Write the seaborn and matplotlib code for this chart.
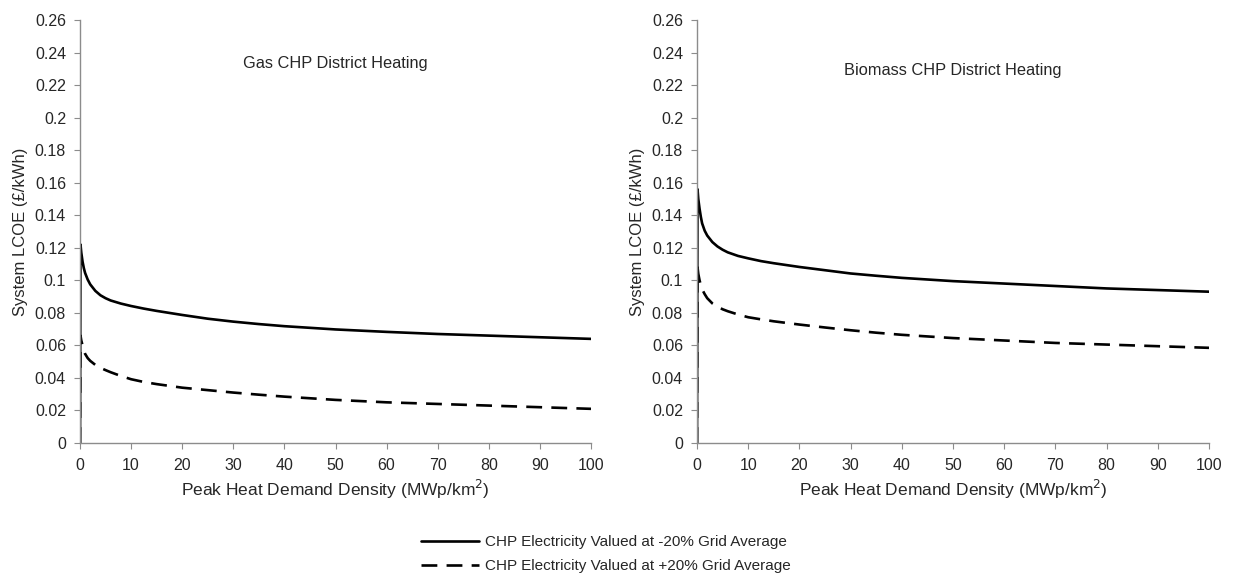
import numpy as np
import pandas as pd
import matplotlib
matplotlib.use("Agg")
import matplotlib.pyplot as plt
import seaborn as sns
from matplotlib.lines import Line2D

# Peak heat demand density (MWp/km2)
density = [0, 0.1, 0.25, 0.5, 0.75, 1, 1.5, 2, 3, 4, 5, 6, 8, 10, 12.5, 15, 20, 25,
           30, 35, 40, 50, 60, 70, 80, 90, 100]

# System LCOE (GBP/kWh), gas CHP district heating
gas_low = [0, 0.122, 0.117, 0.1115, 0.1075, 0.1045, 0.1005, 0.0975, 0.0935, 0.0908, 0.0890,
           0.0876, 0.0857, 0.0842, 0.0826, 0.0812, 0.0787, 0.0764, 0.0746, 0.0731, 0.0718,
           0.0698, 0.0683, 0.0670, 0.0660, 0.0650, 0.0640]
gas_high = [0, 0.066, 0.063, 0.060, 0.057, 0.0548, 0.0522, 0.0505, 0.0480, 0.0462, 0.0448,
            0.0435, 0.0412, 0.0392, 0.0375, 0.0362, 0.0340, 0.0325, 0.0310, 0.0297, 0.0285,
            0.0265, 0.0250, 0.0240, 0.0230, 0.0220, 0.0210]

# System LCOE (GBP/kWh), biomass CHP district heating
bio_low = [0, 0.156, 0.150, 0.144, 0.139, 0.135, 0.1305, 0.1275, 0.1235, 0.1208, 0.1188,
           0.1172, 0.1150, 0.1135, 0.1118, 0.1105, 0.1082, 0.1062, 0.1042, 0.1028, 0.1015,
           0.0995, 0.0980, 0.0965, 0.0950, 0.0940, 0.0930]
bio_high = [0, 0.108, 0.104, 0.100, 0.097, 0.0945, 0.0915, 0.0890, 0.0858, 0.0838, 0.0822,
            0.0810, 0.0790, 0.0773, 0.0760, 0.0748, 0.0728, 0.0710, 0.0693, 0.0678, 0.0665,
            0.0645, 0.0630, 0.0615, 0.0605, 0.0595, 0.0585]

series_names = ["CHP Electricity Valued at -20% Grid Average",
                "CHP Electricity Valued at +20% Grid Average"]
panel_titles = ["Gas CHP District Heating", "Biomass CHP District Heating"]
y_ticks = [0, 0.02, 0.04, 0.06, 0.08, 0.1, 0.12, 0.14, 0.16, 0.18, 0.2, 0.22, 0.24, 0.26]
x_ticks = [0, 10, 20, 30, 40, 50, 60, 70, 80, 90, 100]


def frame(low, high):
    return pd.concat([
        pd.DataFrame({"density": density, "lcoe": low, "series": series_names[0]}),
        pd.DataFrame({"density": density, "lcoe": high, "series": series_names[1]}),
    ], ignore_index=True)


sns.set_theme(style="white")
plt.rcParams["font.family"] = ["Liberation Sans", "DejaVu Sans"]

W, H = 1234, 578
fig = plt.figure(figsize=(W / 100, H / 100), dpi=100)
ax_left = fig.add_axes([80 / W, 1 - 443 / H, 511 / W, 423 / H])
ax_right = fig.add_axes([697 / W, 1 - 443 / H, 512 / W, 423 / H])

dash_map = {series_names[0]: "", series_names[1]: (6, 3.5)}
grey = "#8c8c8c"

for ax, (low, high), title, title_y in zip([ax_left, ax_right],
                                           [(gas_low, gas_high), (bio_low, bio_high)],
                                           panel_titles, [0.896, 0.880]):
    sns.lineplot(data=frame(low, high), x="density", y="lcoe", style="series",
                 dashes=dash_map, color="black", linewidth=1.9, ax=ax,
                 legend=False, estimator=None, sort=False)
    ax.set_xlim(0, 100)
    ax.set_ylim(0, 0.26)
    ax.set_xticks(x_ticks)
    ax.set_yticks(y_ticks)
    ax.set_yticklabels([f"{v:g}" for v in y_ticks])
    ax.set_xlabel("Peak Heat Demand Density (MWp/km$^2$)", fontsize=12.5, labelpad=3)
    ax.set_ylabel("System LCOE (£/kWh)", fontsize=12, labelpad=5)
    ax.tick_params(axis="both", which="major", length=4, width=0.8, color=grey,
                   labelsize=11.5, direction="out")
    ax.tick_params(axis="x", bottom=True, pad=7)
    ax.tick_params(axis="y", left=True, pad=6)
    for side in ["top", "right"]:
        ax.spines[side].set_visible(False)
    for side in ["left", "bottom"]:
        ax.spines[side].set_color(grey)
        ax.spines[side].set_linewidth(1.0)
    ax.text(0.5, title_y, title, transform=ax.transAxes, ha="center", va="center",
            fontsize=11.8)

handles = [Line2D([], [], color="black", linewidth=1.9, linestyle="-"),
           Line2D([], [], color="black", linewidth=1.9, linestyle=(0, (6, 3.5)))]
fig.legend(handles, series_names, loc="center", bbox_to_anchor=(606 / W, 1 - 554 / H),
           frameon=False, fontsize=11, handlelength=3.8, handletextpad=0.4,
           labelspacing=0.65)

fig.savefig("out.png", dpi=100, facecolor="white")
